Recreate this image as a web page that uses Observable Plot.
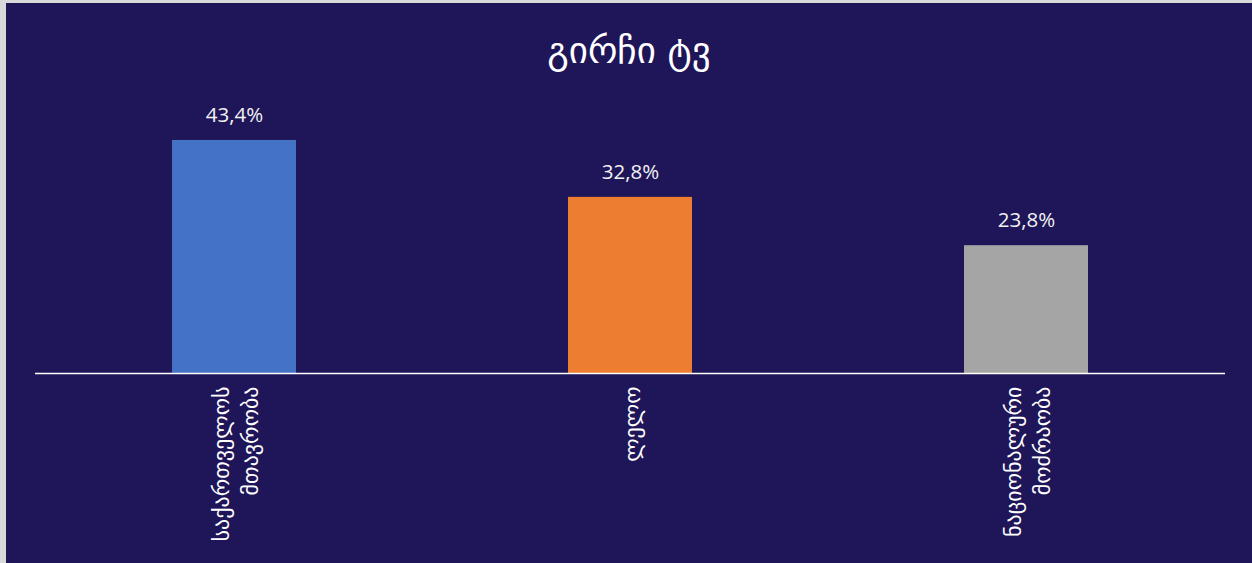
<!DOCTYPE html>
<html>
<head>
<meta charset="utf-8">
<script src="https://cdn.jsdelivr.net/npm/d3@7"></script>
<script src="https://cdn.jsdelivr.net/npm/@observablehq/plot@0.6"></script>
<style>
  html, body { margin: 0; padding: 0; background: #d9d9d9; width: 1252px; height: 563px; overflow: hidden; }
  #frame { position: absolute; left: 6px; top: 3px; width: 1246px; height: 560px; background: #1f1559; }
  #title { position: absolute; left: 0; top: 26px; width: 1246px; text-align: center; color: #ffffff;
           font-family: "DejaVu Sans", sans-serif; font-size: 37px; line-height: 44px; }
  #chart { position: absolute; left: 0; top: 84px; }
</style>
</head>
<body>
<div id="frame">
  <div id="title">გირჩი ტვ</div>
  <div id="chart"></div>
</div>
<script>
const categories = ["საქართველოს მთავრობა", "ლელო", "ნაციონალური მოძრაობა"];
const tickLabels = ["საქართველოს\nმთავრობა", "ლელო", "ნაციონალური\nმოძრაობა"];
const values = [43.4, 32.8, 23.8];
const colors = ["#4472c4", "#ed7d31", "#a5a5a5"];

const data = categories.map((c, i) => ({category: c, value: values[i], color: colors[i]}));
const fmt = v => v.toFixed(1).replace(".", ",") + "%";

const plot = Plot.plot({
  width: 1246,
  height: 476,
  marginLeft: 29,
  marginRight: 27,
  marginTop: 17.5,
  marginBottom: 190,
  style: {background: "transparent", color: "#ffffff", overflow: "visible"},
  x: {domain: categories, padding: 0, label: null},
  y: {domain: [0, 50], axis: null},
  marks: [
    Plot.barY(data, {x: "category", y: "value", fill: "color", insetLeft: 136, insetRight: 136}),
    Plot.ruleY([0], {stroke: "#ffffff", strokeWidth: 1.5}),
    Plot.text(data, {x: "category", y: "value", text: d => fmt(d.value), dy: -25, lineAnchor: "middle",
      fill: "#f2f2f2", fontSize: 20.5, fontFamily: "Open Sans, sans-serif"}),
    Plot.axisX({tickSize: 0, tickRotate: -90, tickPadding: 13, tickFormat: c => tickLabels[categories.indexOf(c)],
      fontSize: 22, fontFamily: "DejaVu Sans, sans-serif", fill: "#ffffff", lineHeight: 1.3, label: null})
  ]
});
document.getElementById("chart").appendChild(plot);
</script>
</body>
</html>
